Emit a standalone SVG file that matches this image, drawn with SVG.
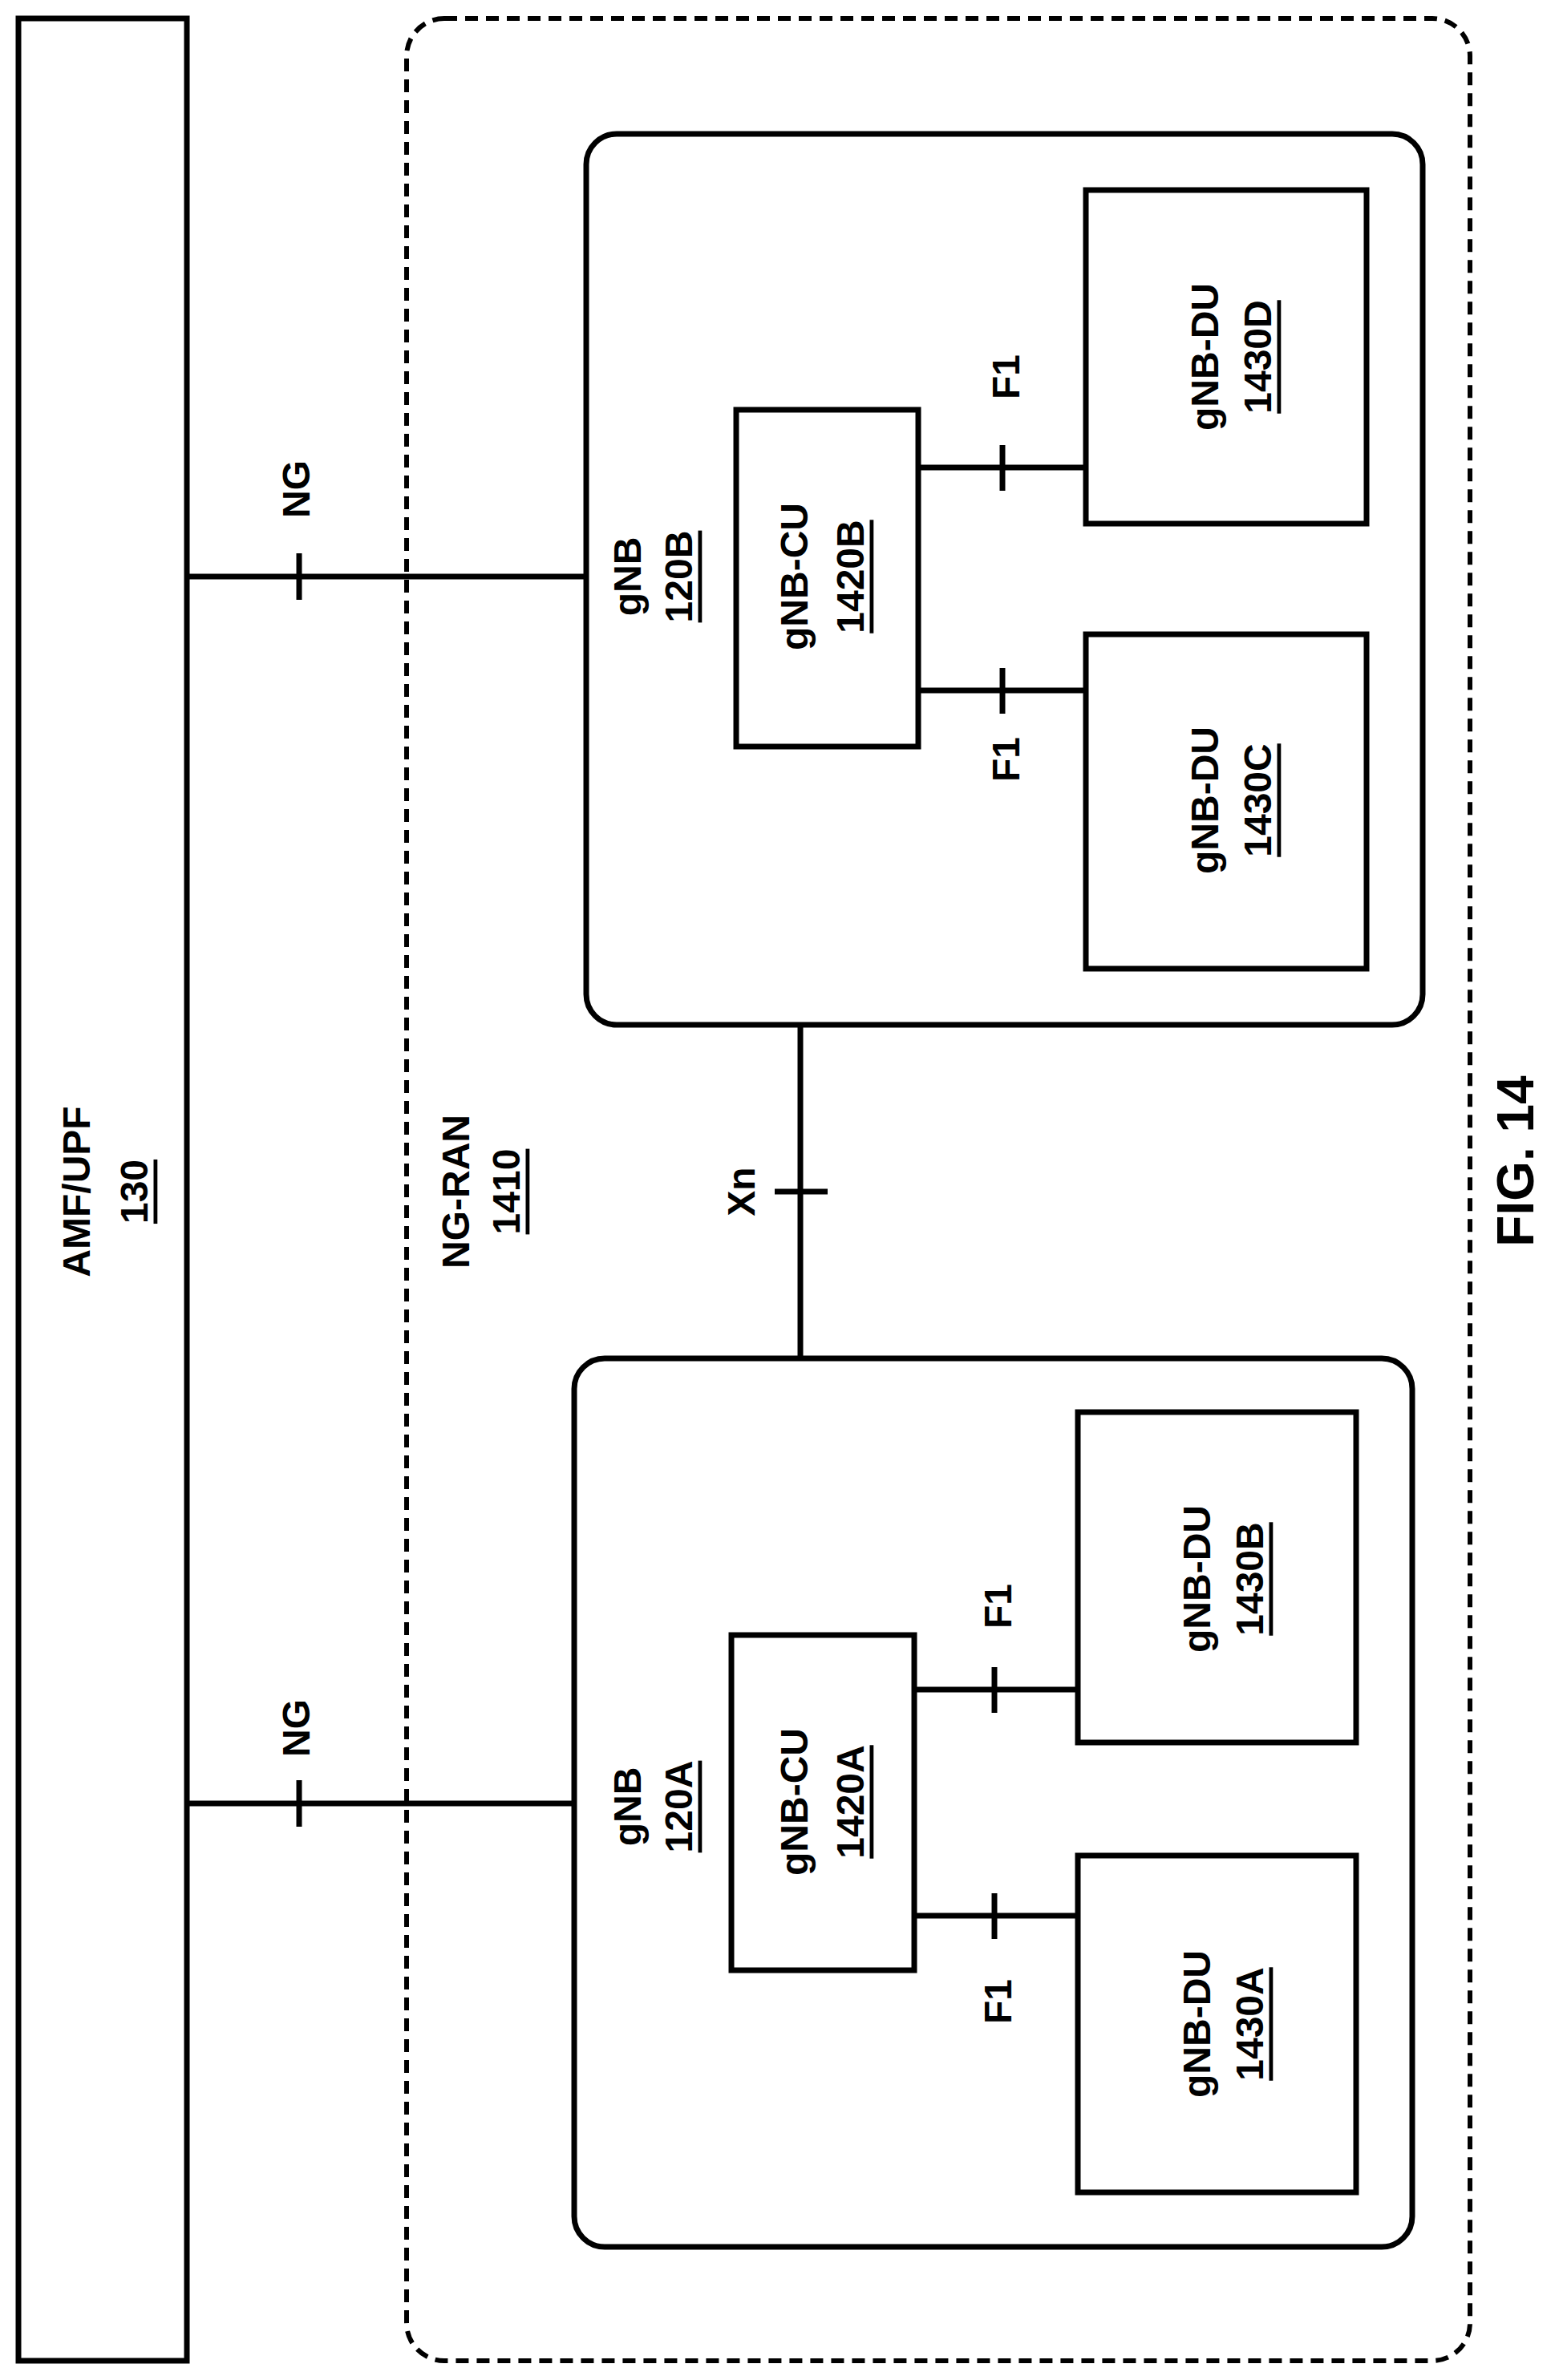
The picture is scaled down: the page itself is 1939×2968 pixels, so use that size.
<svg xmlns="http://www.w3.org/2000/svg" width="1939" height="2968" viewBox="0 0 1939 2968">
<style>
rect,line{fill:none;stroke:#000;stroke-width:7}
.d{stroke-dasharray:16 10;stroke-width:6}
text{font-family:"Liberation Sans",Arial,sans-serif;font-weight:bold;font-size:48px;text-anchor:middle;dominant-baseline:central}
.u{text-decoration:underline}
</style>
<rect width="1939" height="2968" fill="#fff" stroke="none" style="fill:#fff;stroke:none"/>
<g id="amf"><rect x="23" y="23" width="210" height="2921"/>
<text transform="rotate(-90 95 1486)" x="95" y="1486">AMF/UPF</text>
<text class="u" transform="rotate(-90 167 1486)" x="167" y="1486">130</text></g>
<g id="ngran"><rect class="d" x="507" y="23" width="1326" height="2921" rx="47"/>
<text transform="rotate(-90 568 1486)" x="568" y="1486">NG-RAN</text>
<text class="u" transform="rotate(-90 631 1486)" x="631" y="1486">1410</text></g>
<g id="gnb120B"><rect x="731" y="167" width="1043" height="1111" rx="38"/>
<text transform="rotate(-90 782 719)" x="782" y="719">gNB</text>
<text class="u" transform="rotate(-90 846 719)" x="846" y="719">120B</text></g>
<g id="cu1420B"><rect x="918" y="511" width="227" height="420"/>
<text transform="rotate(-90 990 719)" x="990" y="719">gNB-CU</text>
<text class="u" transform="rotate(-90 1060 719)" x="1060" y="719">1420B</text></g>
<g id="du1430D"><rect x="1354" y="237" width="350" height="416"/>
<text transform="rotate(-90 1502 445)" x="1502" y="445">gNB-DU</text>
<text class="u" transform="rotate(-90 1568 445)" x="1568" y="445">1430D</text></g>
<g id="du1430C"><rect x="1354" y="791" width="350" height="417"/>
<text transform="rotate(-90 1502 998)" x="1502" y="998">gNB-DU</text>
<text class="u" transform="rotate(-90 1568 998)" x="1568" y="998">1430C</text></g>
<g id="gnb120A"><rect x="716" y="1694" width="1045" height="1108" rx="38"/>
<text transform="rotate(-90 782 2253)" x="782" y="2253">gNB</text>
<text class="u" transform="rotate(-90 846 2253)" x="846" y="2253">120A</text></g>
<g id="cu1420A"><rect x="912" y="2039" width="228" height="418"/>
<text transform="rotate(-90 990 2247)" x="990" y="2247">gNB-CU</text>
<text class="u" transform="rotate(-90 1060 2247)" x="1060" y="2247">1420A</text></g>
<g id="du1430B"><rect x="1344" y="1761" width="347" height="412"/>
<text transform="rotate(-90 1492 1969)" x="1492" y="1969">gNB-DU</text>
<text class="u" transform="rotate(-90 1558 1969)" x="1558" y="1969">1430B</text></g>
<g id="du1430A"><rect x="1344" y="2314" width="347" height="420"/>
<text transform="rotate(-90 1492 2524)" x="1492" y="2524">gNB-DU</text>
<text class="u" transform="rotate(-90 1558 2524)" x="1558" y="2524">1430A</text></g>
<g id="connectors">
<line x1="233" y1="719" x2="731" y2="719"/><line x1="373" y1="690" x2="373" y2="748"/>
<text transform="rotate(-90 369 610)" x="369" y="610">NG</text>
<line x1="233" y1="2249" x2="716" y2="2249"/><line x1="373" y1="2220" x2="373" y2="2278"/>
<text transform="rotate(-90 369 2155)" x="369" y="2155">NG</text>
<line x1="998" y1="1278" x2="998" y2="1694"/><line x1="966" y1="1486" x2="1032" y2="1486"/>
<text transform="rotate(-90 924 1486)" x="924" y="1486">Xn</text>
<line x1="1145" y1="583" x2="1354" y2="583"/><line x1="1250" y1="555" x2="1250" y2="612"/>
<text transform="rotate(-90 1254 470)" x="1254" y="470">F1</text>
<line x1="1145" y1="861" x2="1354" y2="861"/><line x1="1250" y1="833" x2="1250" y2="890"/>
<text transform="rotate(-90 1254 947)" x="1254" y="947">F1</text>
<line x1="1140" y1="2107" x2="1344" y2="2107"/><line x1="1240" y1="2079" x2="1240" y2="2136"/>
<text transform="rotate(-90 1244 2003)" x="1244" y="2003">F1</text>
<line x1="1140" y1="2389" x2="1344" y2="2389"/><line x1="1240" y1="2361" x2="1240" y2="2418"/>
<text transform="rotate(-90 1244 2496)" x="1244" y="2496">F1</text>
</g>
<text transform="rotate(-90 1890 1448)" x="1890" y="1448" style="font-size:64px">FIG. 14</text>
</svg>
